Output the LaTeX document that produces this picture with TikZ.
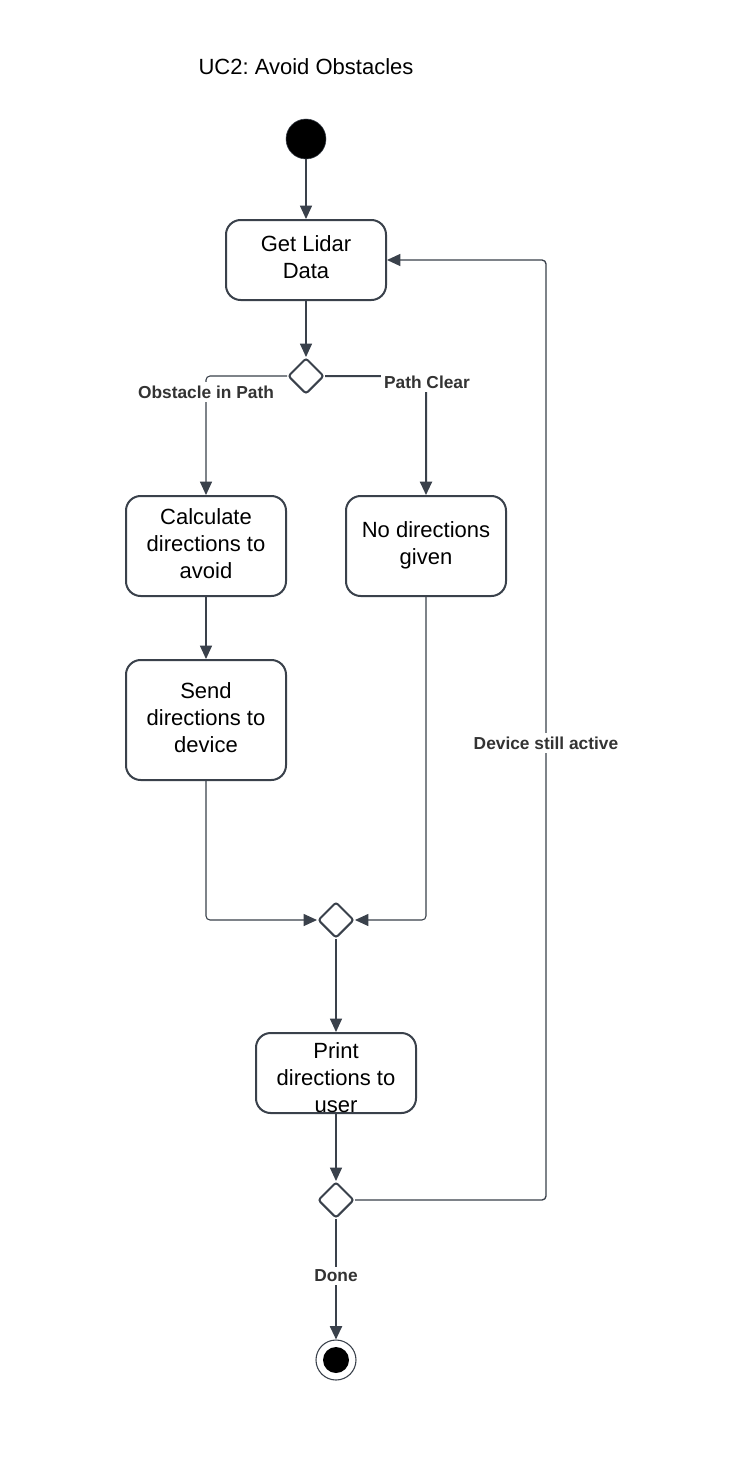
\documentclass[tikz,border=0pt]{standalone}
\usepackage{fontspec}
\setmainfont{Liberation Sans}
\frenchspacing
\usetikzlibrary{arrows.meta,shapes.geometric}
\definecolor{ln}{HTML}{3A414B}
\definecolor{lbl}{HTML}{333333}
\begin{document}
\begin{tikzpicture}[x=0.75pt,y=-0.75pt,
  acttext/.style={align=center, font=\fontsize{16.5}{20.25}\selectfont, inner sep=0pt},
  act/.style={acttext, draw=ln, line width=1.5pt, rounded corners=11pt, minimum width=120pt,
    execute at end node={\rule[-4pt]{0pt}{4pt}}},
  dec/.style={draw=ln, line width=1.5pt, diamond, minimum width=27pt, minimum height=27pt,
    inner sep=0pt, rounded corners=2pt, fill=white},
  flow/.style={draw=ln, line width=0.8pt, -{Triangle[length=10pt,width=9pt]}, rounded corners=3pt},
  thick flow/.style={flow, line width=1.5pt},
  lab/.style={fill=white, font=\fontsize{13}{15}\selectfont\bfseries, text=lbl, inner sep=2.5pt}
]
\fill[white] (0,0) rectangle (731,1474);
\useasboundingbox (0,0) rectangle (731,1474);

\node[font=\fontsize{16.5}{20}\selectfont] (title) at (306,67) {UC2: Avoid Obstacles};

\node[circle, fill=black, draw=ln, line width=0.4pt, minimum size=30pt, inner sep=0pt] (start) at (306,139) {};
\node[act, minimum height=60pt] (lidar) at (306,260) {Get Lidar\\Data};
\node[dec] (d1) at (306,376) {};
\node[act, minimum height=75pt] (calc) at (206,546) {Calculate\\directions to\\avoid};
\node[act, minimum height=75pt] (nodir) at (426,546) {No directions\\given};
\node[act, minimum height=90pt] (send) at (206,720) {Send\\directions to\\device};
\node[dec] (d2) at (336,920) {};
\node[act, minimum height=60pt] (print) at (336,1073) {};
\node[acttext] (printtxt) at (336,1078) {Print\\directions to\\user};
\node[dec] (d3) at (336,1200) {};
\node[circle, draw=ln, line width=0.8pt, fill=white, minimum size=30pt, inner sep=0pt] (end) at (336,1360) {};
\node[circle, fill=black, minimum size=19.5pt, inner sep=0pt] (endin) at (end.center) {};

\coordinate (loop) at (546,260);

\draw[flow] (start) -- (lidar);
\draw[flow] (lidar) -- (d1);
\draw[flow] (d1.west) -| (calc.north);
\draw[thick flow] (d1.east) -| (nodir.north);
\draw[flow] (calc) -- (send);
\draw[flow] (send.south) |- (d2.west);
\draw[flow] (nodir.south) |- (d2.east);
\draw[flow] (d2) -- (print);
\draw[flow] (print) -- (d3);
\draw[flow, line width=1pt] (d3.east) -| (loop) -- (lidar.east);
\draw[thick flow] (d3) -- (end);

\node[lab] (lobst) at (206,392) {Obstacle in Path};
\node[lab] (lclear) at (427,382) {Path Clear};
\node[lab] (lactive) at (546,743) {Device still active};
\node[lab] (ldone) at (336,1276) {Done};
\end{tikzpicture}
\end{document}
